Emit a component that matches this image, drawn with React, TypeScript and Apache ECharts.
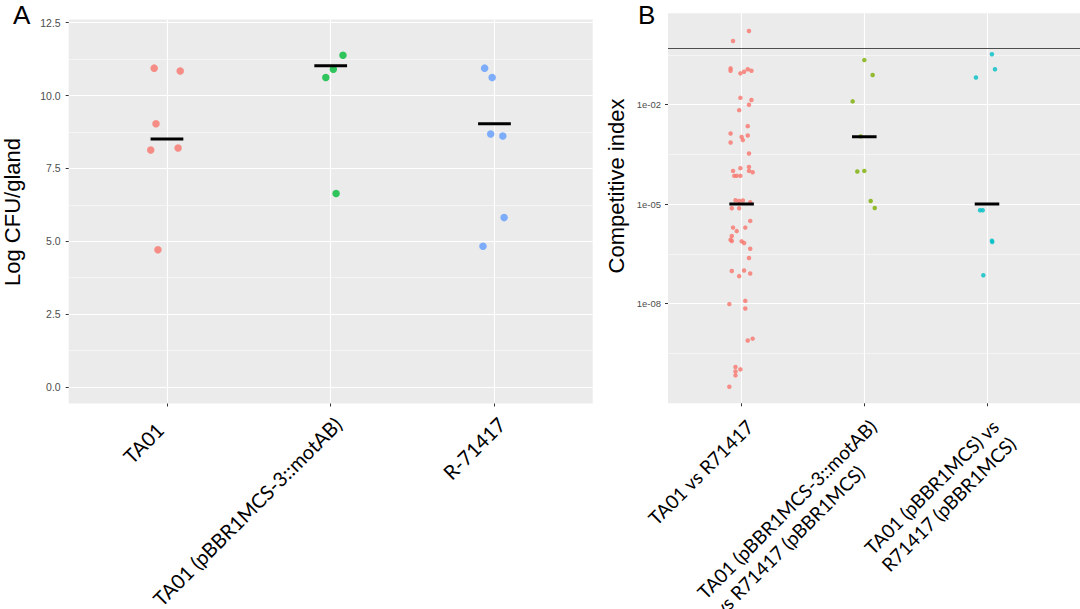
import React, { useEffect, useRef } from "react";
import * as echarts from "echarts";

// ---------- Panel A data ----------
const groupsA = ["TA01", "TA01 (pBBR1MCS-3::motAB)", "R-71417"];
const colorsA = ["#F8766D", "#00BA38", "#619CFF"];
const ta01Values = [10.94, 10.84, 9.03, 8.13, 8.2, 4.71];
const ta01Jitter = [-0.078, 0.081, -0.067, -0.099, 0.068, -0.055];
const motValues = [11.38, 10.9, 10.62, 6.64];
const motJitter = [0.075, 0.016, -0.03, 0.033];
const r71417Values = [10.94, 10.62, 8.68, 8.61, 5.81, 4.83];
const r71417Jitter = [-0.06, -0.014, -0.023, 0.051, 0.059, -0.07];
const mediansA = [8.51, 11.02, 9.03];
const ticksA = [0, 2.5, 5, 7.5, 10, 12.5];
const minorTicksA = [1.25, 3.75, 6.25, 8.75, 11.25];

// ---------- Panel B data (competitive index) ----------
const groupsB = [
  "TA01 vs R71417",
  "TA01 (pBBR1MCS-3::motAB)\nvs R71417 (pBBR1MCS)",
  "TA01 (pBBR1MCS) vs\nR71417 (pBBR1MCS)",
];
const colorsB = ["#F8766D", "#7CAE00", "#00BFC4"];
const ciTa01VsR = [
  1.66, 0.83, 0.124, 0.105, 0.0875, 0.098, 0.116, 0.105, 0.016, 0.0137,
  0.0099, 0.0068, 0.00224, 0.00135, 0.00106, 0.00117, 0.00085, 0.00072, 3.36e-4, 1.0e-4,
  1.21e-4, 1.32e-4, 1.0e-4, 9.1e-5, 7.1e-5, 7.1e-5, 7.1e-5, 1.3e-5, 1.24e-5, 1.28e-5,
  1.14e-5, 7.5e-6, 7.5e-6, 3.1e-6, 1.95e-6, 1.95e-6, 1.53e-6, 1.09e-6, 8.4e-7, 7.7e-7,
  7.5e-7, 6.7e-7, 4.5e-7, 2.36e-7, 9.6e-8, 9.9e-8, 6.7e-8, 8.0e-8, 9.6e-9, 1.2e-8,
  7.1e-9, 7.7e-10, 8.7e-10, 1.22e-10, 1.03e-10, 8.9e-11, 6.8e-11, 3.1e-11,
];
const jitterTa01VsR = [
  0.06, -0.07, -0.09, -0.09, -0.01, 0.02, 0.05, 0.08, -0.01, 0.08,
  0.06, -0.02, 0.05, -0.09, 0.0, 0.05, 0.01, -0.09, 0.06, -0.07,
  -0.01, 0.06, 0.06, 0.09, -0.06, -0.04, -0.01, -0.05, -0.02, 0.01,
  0.07, -0.08, -0.02, 0.07, -0.07, 0.03, -0.04, -0.08, -0.09, -0.08,
  0.0, 0.02, 0.07, 0.06, -0.08, 0.02, -0.02, 0.07, -0.1, 0.03,
  0.03, 0.05, 0.09, -0.05, -0.01, -0.05, -0.05, -0.1,
];
const ciMotVsR = [0.22, 0.078, 0.0125, 1.1e-3, 9.6e-5, 1.0e-4, 1.24e-5, 7.6e-6];
const jitterMotVsR = [0.0, 0.068, -0.095, -0.03, -0.057, 0.0, 0.052, 0.085];
const ciPlasmidVsR = [0.33, 0.116, 0.066, 6.5e-6, 6.5e-6, 7.8e-7, 7.2e-7, 7.1e-8];
const jitterPlasmidVsR = [0.04, 0.065, -0.09, -0.057, -0.035, 0.04, 0.043, -0.03];
const mediansB = [1e-5, 1.07e-3, 1e-5];
const referenceCI = 0.5;
const ticksBExp = [-2, -5, -8];
const minorTicksBExp = [-0.5, -3.5, -6.5, -9.5];

const tickColor = "#333333";
const tickLabelColor = "#4D4D4D";
const panelBg = "#EBEBEB";
const labelFont = "Lato, 'Open Sans', sans-serif";
const axisFont = "'Liberation Sans', Arial, sans-serif";

function buildOption() {
  const valuesA = [ta01Values, motValues, r71417Values];
  const jittersA = [ta01Jitter, motJitter, r71417Jitter];
  const valuesB = [ciTa01VsR, ciMotVsR, ciPlasmidVsR];
  const jittersB = [jitterTa01VsR, jitterMotVsR, jitterPlasmidVsR];

  const series: any[] = [];

  valuesA.forEach((vals, g) => {
    series.push({
      type: "scatter",
      xAxisIndex: 0,
      yAxisIndex: 0,
      symbolSize: 7.5,
      itemStyle: { color: colorsA[g] },
      data: vals.map((v, i) => [g + 1 + jittersA[g][i], v]),
      z: 3,
    });
  });
  mediansA.forEach((m, g) => {
    const c = g + 1;
    series.push({
      type: "line",
      xAxisIndex: 0,
      yAxisIndex: 0,
      symbol: "none",
      lineStyle: { color: "#000", width: 3 },
      data: [
        [c - 0.1, m],
        [c + 0.1, m],
      ],
      z: 5,
    });
  });

  valuesB.forEach((vals, g) => {
    const s: any = {
      type: "scatter",
      xAxisIndex: 1,
      yAxisIndex: 2,
      symbolSize: 4.5,
      itemStyle: { color: colorsB[g] },
      data: vals.map((v, i) => [g + 1 + jittersB[g][i], Math.log10(v)]),
      z: 3,
    };
    if (g === 0) {
      s.markLine = {
        silent: true,
        symbol: "none",
        label: { show: false },
        lineStyle: { color: "#4D4D4D", width: 1.2, type: "solid" },
        data: [{ yAxis: Math.log10(referenceCI) }],
      };
    }
    series.push(s);
  });
  mediansB.forEach((m, g) => {
    const c = g + 1;
    series.push({
      type: "line",
      xAxisIndex: 1,
      yAxisIndex: 2,
      symbol: "none",
      lineStyle: { color: "#000", width: 3 },
      data: [
        [c - 0.1, Math.log10(m)],
        [c + 0.1, Math.log10(m)],
      ],
      z: 5,
    });
  });

  const xCats = [1, 2, 3];
  const baseX = (max: number, gridIndex: number) => ({
    gridIndex,
    type: "value",
    min: 0.4,
    max,
    position: "bottom",
    axisLine: { show: false, onZero: false },
    axisTick: { show: true, customValues: xCats, length: 3, lineStyle: { color: tickColor, width: 1 } },
    splitLine: { show: true, lineStyle: { color: "#FFFFFF", width: 1.1 } },
  });

  const yMajor = (gridIndex: number, min: number, max: number, ticks: number[], fmt: (v: number) => string, fontSize: number, margin: number) => ({
    gridIndex,
    type: "value",
    min,
    max,
    position: "left",
    axisLine: { show: false, onZero: false },
    axisTick: { show: true, customValues: ticks, length: 3, lineStyle: { color: tickColor, width: 1 } },
    axisLabel: { customValues: ticks, formatter: fmt, color: tickLabelColor, fontSize, fontFamily: axisFont, margin },
    splitLine: { show: true, lineStyle: { color: "#FFFFFF", width: 1.1 } },
  });
  const yMinor = (gridIndex: number, min: number, max: number, ticks: number[]) => ({
    gridIndex,
    type: "value",
    min,
    max,
    position: "right",
    axisLine: { show: false, onZero: false },
    axisTick: { show: false, customValues: ticks },
    axisLabel: { show: false, customValues: ticks },
    splitLine: { show: true, lineStyle: { color: "#FFFFFF", width: 0.5 } },
  });

  const xLabelStyleA = { fontFamily: labelFont, fontSize: 20, color: "#000" };
  const xLabelStyleB = { fontFamily: labelFont, fontSize: 19, color: "#000" };

  return {
    animation: false,
    backgroundColor: "#FFFFFF",
    textStyle: { fontFamily: axisFont },
    grid: [
      { left: 68.7, top: 19.5, width: 524, height: 384, show: true, backgroundColor: panelBg, borderWidth: 0, containLabel: false, outerBoundsMode: "none" },
      { left: 668, top: 13.3, width: 412, height: 390, show: true, backgroundColor: panelBg, borderWidth: 0, containLabel: false, outerBoundsMode: "none" },
    ],
    xAxis: [
      {
        ...baseX(3.6, 0),
        axisLabel: {
          customValues: xCats,
          rotate: 45,
          align: "right",
          verticalAlign: "top",
          margin: 10,
          formatter: (v: number) => {
            const i = Math.round(v) - 1;
            return i === 0 ? `{p|${groupsA[i]}}` : `{a|${groupsA[i]}}`;
          },
          rich: {
            a: { ...xLabelStyleA },
            p: { ...xLabelStyleA, padding: [-6, 14, 0, 0] },
          },
        },
      },
      {
        ...baseX(3.758, 1),
        axisLabel: {
          customValues: xCats,
          rotate: 45,
          align: "right",
          verticalAlign: "top",
          margin: 11,
          formatter: (v: number) => {
            const i = Math.round(v) - 1;
            return groupsB[i]
              .split("\n")
              .map((l) => `{l|${l}}`)
              .join("\n");
          },
          rich: {
            l: { ...xLabelStyleB, align: "left", lineHeight: 24 },
          },
        },
      },
    ],
    yAxis: [
      yMajor(0, -0.57, 12.61, ticksA, (v: number) => v.toFixed(1), 10.5, 8),
      yMinor(0, -0.57, 12.61, minorTicksA),
      yMajor(1, -11.01, 0.754, ticksBExp, (v: number) => `1e-${String(Math.round(-v)).padStart(2, "0")}`, 9.5, 7),
      yMinor(1, -11.01, 0.754, minorTicksBExp),
    ],
    graphic: [
      { type: "text", x: 13, y: 2, style: { text: "A", fontSize: 26, fontFamily: axisFont, fill: "#000", align: "left", verticalAlign: "top" } },
      { type: "text", x: 638, y: 2, style: { text: "B", fontSize: 26, fontFamily: axisFont, fill: "#000", align: "left", verticalAlign: "top" } },
      {
        type: "text",
        x: 12,
        y: 212,
        rotation: Math.PI / 2,
        style: { text: "Log CFU/gland", fontSize: 22, fontFamily: axisFont, fill: "#000", align: "center", verticalAlign: "middle" },
      },
      {
        type: "text",
        x: 616,
        y: 186,
        rotation: Math.PI / 2,
        style: { text: "Competitive index", fontSize: 22, fontFamily: axisFont, fill: "#000", align: "center", verticalAlign: "middle" },
      },
    ],
    series,
  };
}

export default function App() {
  const ref = useRef<HTMLDivElement>(null);
  useEffect(() => {
    if (!ref.current) return;
    const chart = echarts.init(ref.current, undefined, { renderer: "svg" });
    chart.setOption(buildOption() as any);
    return () => chart.dispose();
  }, []);
  return (
    <div
      ref={ref}
      style={{ position: "fixed", left: 0, top: 0, width: 1080, height: 609, background: "#fff" }}
    />
  );
}
